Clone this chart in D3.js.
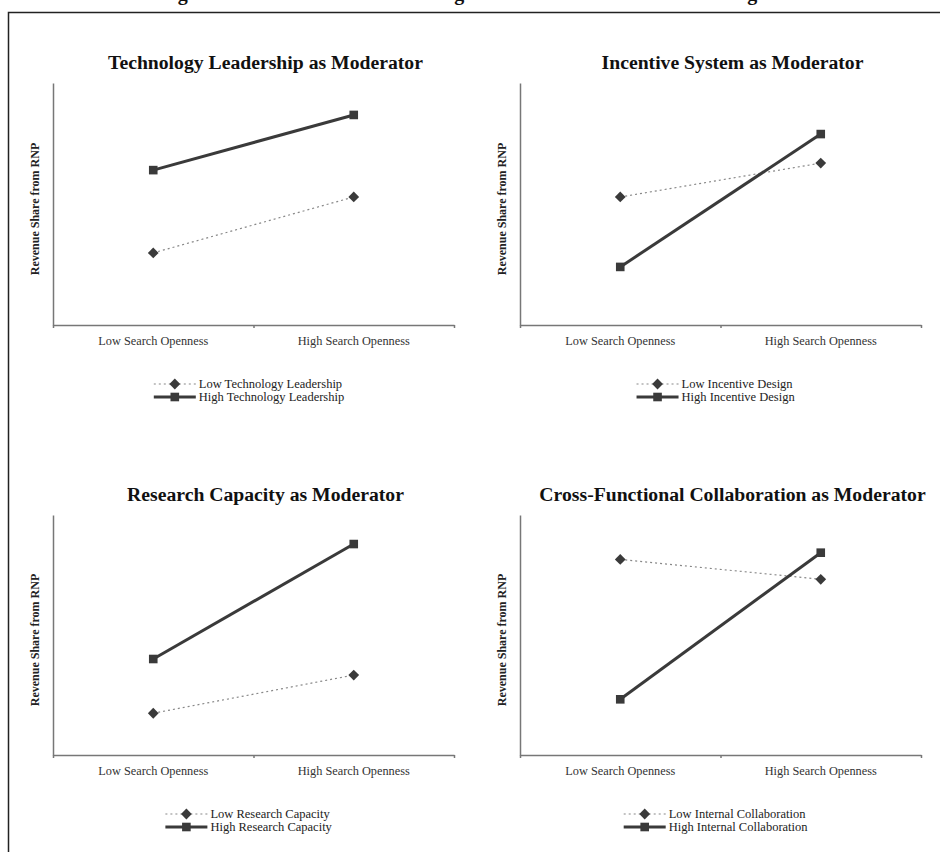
<!DOCTYPE html>
<html>
<head>
<meta charset="utf-8">
<script src="https://cdn.jsdelivr.net/npm/d3@7"></script>
<style>
  html, body { margin: 0; padding: 0; background: #fff; }
  svg { display: block; }
</style>
</head>
<body>
<svg id="chart" width="940" height="852"></svg>
<script>
// ---------- DATA ----------
const figureTitle = "Figure 5. Moderator Effects Among the Four Moderators and the Organizational Outcome";
const categories = ["Low Search Openness", "High Search Openness"];
const panelTitles = [
  "Technology Leadership as Moderator",
  "Incentive System as Moderator",
  "Research Capacity as Moderator",
  "Cross-Functional Collaboration as Moderator"
];
const yAxisLabel = "Revenue Share from RNP";
const lowSeriesNames = [
  "Low Technology Leadership",
  "Low Incentive Design",
  "Low Research Capacity",
  "Low Internal Collaboration"
];
const highSeriesNames = [
  "High Technology Leadership",
  "High Incentive Design",
  "High Research Capacity",
  "High Internal Collaboration"
];
// values on an arbitrary 0-100 scale (axis has no ticks)
const lowValues = [
  [29.8, 52.9],
  [52.9, 66.9],
  [17.4, 33.3],
  [81.5, 73.2]
];
const highValues = [
  [64.0, 86.8],
  [24.0, 78.9],
  [40.0, 87.9],
  [23.2, 84.3]
];

// ---------- LAYOUT ----------
const colX = [[53, 454], [520, 921]];
const rowY = [[83, 325], [515, 755]];
const serif = "'Liberation Serif', 'Times New Roman', serif";
const dark = "#3a3a3a";

const svg = d3.select("#chart");

// page frame
svg.append("path")
  .attr("d", "M8.5,852 L8.5,12.5 L940,12.5")
  .attr("fill", "none").attr("stroke", "#222").attr("stroke-width", 1.5);

// figure caption at top (mostly above the visible page)
svg.append("text")
  .attr("x", 160).attr("y", 0)
  .attr("font-family", serif).attr("font-size", 20).attr("font-weight", "bold")
  .attr("fill", "#111")
  .text(figureTitle);

const yScale0 = d3.scaleLinear().domain([0, 100]);
const diamond = d3.symbol().type(d3.symbolSquare).size(58);
const square = d3.symbol().type(d3.symbolSquare).size(74);

panelTitles.forEach((title, i) => {
  const col = i % 2, row = Math.floor(i / 2);
  const [x0, x1] = colX[col];
  const [top, bottom] = rowY[row];
  const g = svg.append("g");

  const xBand = d3.scaleBand().domain(categories).range([x0, x1]).padding(0);
  const xPoint = c => xBand(c) + xBand.bandwidth() / 2;
  const y = yScale0.copy().range([bottom, top]);
  const midX = (x0 + x1) / 2;

  // title
  g.append("text")
    .attr("x", midX + 12).attr("y", top - 14)
    .attr("text-anchor", "middle")
    .attr("font-family", serif).attr("font-size", 19.7).attr("font-weight", "bold")
    .attr("fill", "#111")
    .text(title);

  // y axis (line only)
  const yAxis = g.append("g").attr("transform", `translate(${x0},0)`)
    .call(d3.axisLeft(y).ticks(0).tickSize(0).tickFormat(""));
  yAxis.select(".domain").attr("stroke", "#777").attr("stroke-width", 1.5);

  // y label
  g.append("text")
    .attr("transform", `translate(${x0 - 14},${(top + bottom) / 2 + 5}) rotate(-90)`)
    .attr("text-anchor", "middle")
    .attr("font-family", serif).attr("font-size", 12).attr("font-weight", "bold")
    .attr("fill", "#222")
    .text(yAxisLabel);

  // x axis: boundary ticks from the band scale
  const boundaries = categories.map(c => xBand(c)).concat([xBand(categories[categories.length - 1]) + xBand.bandwidth()]);
  const xLin = d3.scaleLinear().domain([x0, x1]).range([x0, x1]);
  const xAxis = g.append("g").attr("transform", `translate(0,${bottom})`)
    .call(d3.axisBottom(xLin).tickValues(boundaries).tickSize(3).tickSizeOuter(0).tickFormat(""));
  xAxis.select(".domain").attr("stroke", "#777").attr("stroke-width", 1.5);
  xAxis.selectAll(".tick line").attr("stroke", "#777").attr("stroke-width", 1.5);

  // category labels
  g.selectAll(".cat").data(categories).enter().append("text")
    .attr("x", d => xPoint(d)).attr("y", bottom + 20)
    .attr("text-anchor", "middle")
    .attr("font-family", serif).attr("font-size", 12.3)
    .attr("fill", "#333")
    .text(d => d);

  const line = d3.line().x((d, k) => xPoint(categories[k])).y(d => y(d));

  // low series (dotted, diamond)
  g.append("path").datum(lowValues[i])
    .attr("d", line).attr("fill", "none")
    .attr("stroke", "#888").attr("stroke-width", 1.2).attr("stroke-dasharray", "2,3");
  g.selectAll(".lowpt").data(lowValues[i]).enter().append("path")
    .attr("d", diamond)
    .attr("transform", (d, k) => `translate(${xPoint(categories[k])},${y(d)}) rotate(45)`)
    .attr("fill", dark);

  // high series (solid, square)
  g.append("path").datum(highValues[i])
    .attr("d", line).attr("fill", "none")
    .attr("stroke", dark).attr("stroke-width", 3);
  g.selectAll(".highpt").data(highValues[i]).enter().append("path")
    .attr("d", square)
    .attr("transform", (d, k) => `translate(${xPoint(categories[k])},${y(d)})`)
    .attr("fill", dark);

  // legend
  const leg = g.append("g");
  const rows = [
    { name: lowSeriesNames[i], dash: "2,3", w: 1.2, color: "#888", sym: diamond, rot: 45 },
    { name: highSeriesNames[i], dash: null, w: 3, color: dark, sym: square, rot: 0 }
  ];
  rows.forEach((r, k) => {
    const ly = bottom + 59 + k * 13;
    leg.append("line").attr("x1", 0).attr("x2", 42).attr("y1", ly).attr("y2", ly)
      .attr("stroke", r.color).attr("stroke-width", r.w)
      .attr("stroke-dasharray", r.dash);
    leg.append("path").attr("d", r.sym)
      .attr("transform", `translate(21,${ly}) rotate(${r.rot})`)
      .attr("fill", dark);
    leg.append("text").attr("x", 45).attr("y", ly + 4)
      .attr("font-family", serif).attr("font-size", 12.5)
      .attr("fill", "#222")
      .text(r.name);
  });
  const bb = leg.node().getBBox();
  leg.attr("transform", `translate(${midX - 4.5 - bb.width / 2},0)`);
});
</script>
</body>
</html>
